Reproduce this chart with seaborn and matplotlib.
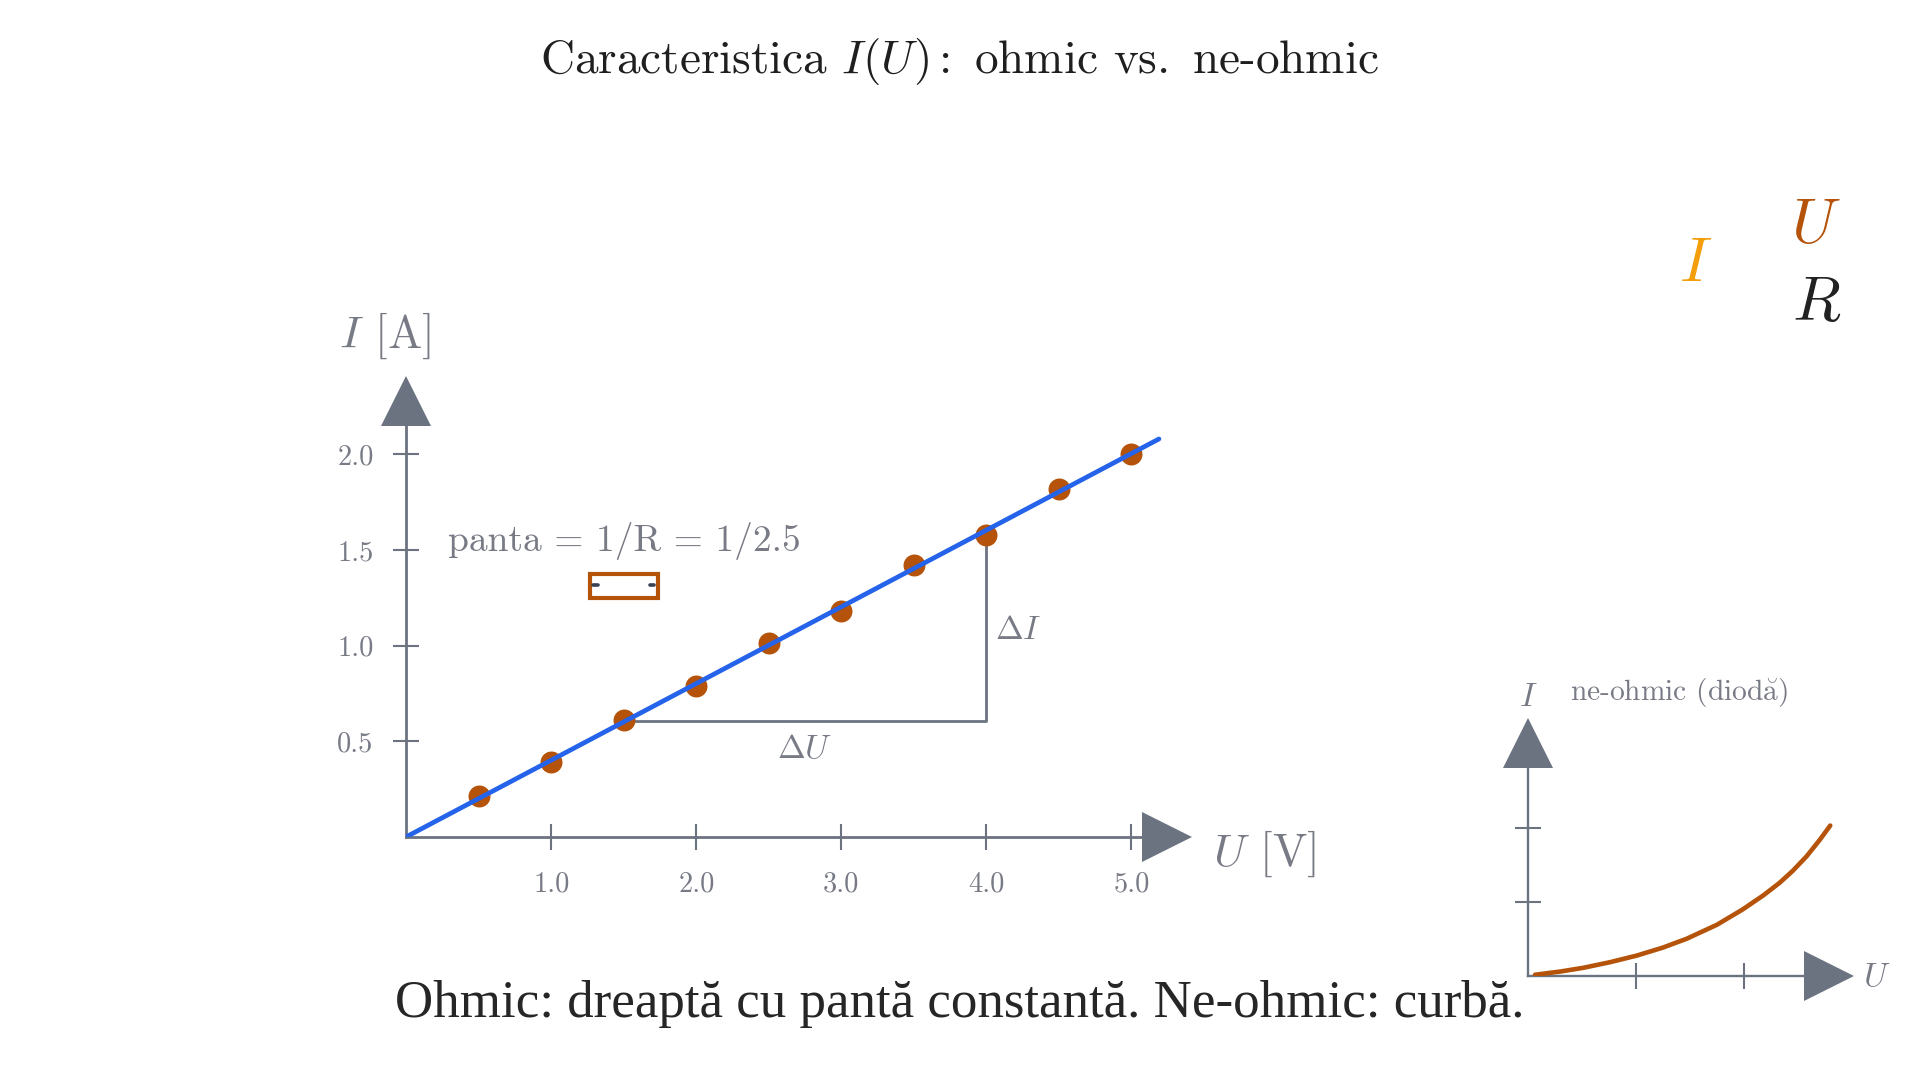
import matplotlib
matplotlib.use("Agg")
import matplotlib.pyplot as plt
import seaborn as sns
from matplotlib.patches import Rectangle

# ohmic data
u_points = [0.5, 1.0, 1.5, 2.0, 2.5, 3.0, 3.5, 4.0, 4.5, 5.0]
i_points = [0.215, 0.39, 0.61, 0.79, 1.015, 1.18, 1.42, 1.58, 1.82, 2.00]
u_line = [0.0, 5.19]
i_line = [0.0, 2.08]
u_ticks = [1.0, 2.0, 3.0, 4.0, 5.0]
i_ticks = [0.5, 1.0, 1.5, 2.0]
u_labels = ["1.0", "2.0", "3.0", "4.0", "5.0"]
i_labels = ["0.5", "1.0", "1.5", "2.0"]

# slope triangle
tri_u = [1.5, 4.0, 4.0]
tri_i = [0.603, 0.603, 1.58]

# diode curve
u_diode = [0.065, 0.30, 0.51, 0.76, 1.01, 1.25, 1.47, 1.75, 1.99, 2.18, 2.33, 2.45, 2.58, 2.70, 2.80]
i_diode = [0.01, 0.054, 0.104, 0.181, 0.272, 0.38, 0.50, 0.69, 0.90, 1.09, 1.26, 1.42, 1.62, 1.84, 2.04]
diode_ticks = [1, 2]

GRAY = "#6b7280"
TEXT = "#787b85"
BROWN = "#b45309"
BLUE = "#2563eb"

sns.set_style("white")
plt.rcParams["font.family"] = ["cmr10", "DejaVu Serif"]
plt.rcParams["mathtext.fontset"] = "cm"
plt.rcParams["axes.formatter.use_mathtext"] = True

W, H = 1920, 1080
fig = plt.figure(figsize=(19.2, 10.8), dpi=100, facecolor="white")


def label(x, y, s, size, color=TEXT, ha="center", **kw):
    # positions in reference pixels
    fig.text(x / W, 1 - (y + 2.5) / H, s, fontsize=size, color=color, ha=ha, va="center", **kw)


def make_axes(left, bottom, width, height, xmax, ymax, xticks, yticks, lw, arrow_x, arrow_y):
    ax = fig.add_axes([left / W, 1 - bottom / H, width / W, height / H])
    ax.patch.set_alpha(0)
    ax.set_xlim(0, xmax)
    ax.set_ylim(0, ymax)
    sns.despine(ax=ax)
    for side in ["left", "bottom"]:
        ax.spines[side].set_color(GRAY)
        ax.spines[side].set_linewidth(lw)
    # stop the spines under the arrow heads
    ax.spines["bottom"].set_bounds(0, arrow_x * xmax)
    ax.spines["left"].set_bounds(0, arrow_y * ymax)
    ax.set_xticks(xticks)
    ax.set_yticks(yticks)
    ax.tick_params(axis="both", direction="inout", length=19, width=1.5, color=GRAY,
                   bottom=True, left=True)
    # arrow heads at the end of each axis
    ax.plot([arrow_x], [0], marker=">", ms=36.5, color=GRAY, mew=0,
            transform=ax.transAxes, clip_on=False)
    ax.plot([0], [arrow_y], marker="^", ms=36.5, color=GRAY, mew=0,
            transform=ax.transAxes, clip_on=False)
    return ax


# main chart
ax = make_axes(406.3, 836.8, 786, 460, 5.42, 2.405, u_ticks, i_ticks, 2.0, 0.968, 0.948)
ax.set_xticklabels(u_labels, fontsize=20.5, color=TEXT)
ax.set_yticklabels(i_labels, fontsize=20.5, color=TEXT)
ax.tick_params(axis="x", pad=15)
ax.tick_params(axis="y", pad=14)

sns.lineplot(x=tri_u, y=tri_i, ax=ax, color=GRAY, linewidth=2.0, sort=False, estimator=None)
sns.scatterplot(x=u_points, y=i_points, ax=ax, color=BROWN, s=250, linewidth=0, zorder=3)
sns.lineplot(x=u_line, y=i_line, ax=ax, color=BLUE, linewidth=3.4, zorder=4)

ax.add_patch(Rectangle((1.265, 1.25), 0.47, 0.125, fill=False, edgecolor=BROWN, linewidth=3.0))
sns.lineplot(x=[1.29, 1.32], y=[1.315, 1.315], ax=ax, color="#374151", linewidth=2.6)
sns.lineplot(x=[1.68, 1.71], y=[1.315, 1.315], ax=ax, color="#374151", linewidth=2.6)

# small diode chart
ax2 = make_axes(1528, 975.5, 326, 258, 3.02, 3.51, diode_ticks, diode_ticks, 1.7, 0.923, 0.903)
ax2.set_xticklabels([])
ax2.set_yticklabels([])
sns.lineplot(x=u_diode, y=i_diode, ax=ax2, color=BROWN, linewidth=3.3, zorder=4)

# texts
label(960, 59, r"Caracteristica $I(U)\,$:$\,$ ohmic vs.$\,$ ne-ohmic", 34, color="#1f1f1f")
label(385, 333, r"$I$ [A]", 33)
label(1264, 851, r"$U$ [V]", 33)
label(624, 539, "panta = 1/R = 1/2.5", 27)
label(1018, 628, r"$\Delta I$", 24)
label(805, 747, r"$\Delta U$", 24)
label(1528, 695, r"$I$", 24)
label(1570, 691, r"ne-ohmic (diod$\breve{\mathrm{a}}$)", 21.2, ha="left")
label(1877, 975, r"$U$", 24)
label(1816, 225, r"$U$", 45, color=BROWN)
label(1696, 263, r"$I$", 45, color="#f59e0b")
label(1817, 303, r"$R$", 45, color="#222222")
label(960, 1002, "Ohmic: dreaptă cu pantă constantă. Ne-ohmic: curbă.", 38.2,
      color="#262626", family="Liberation Serif")

fig.savefig("out.png", dpi=100, facecolor="white")
